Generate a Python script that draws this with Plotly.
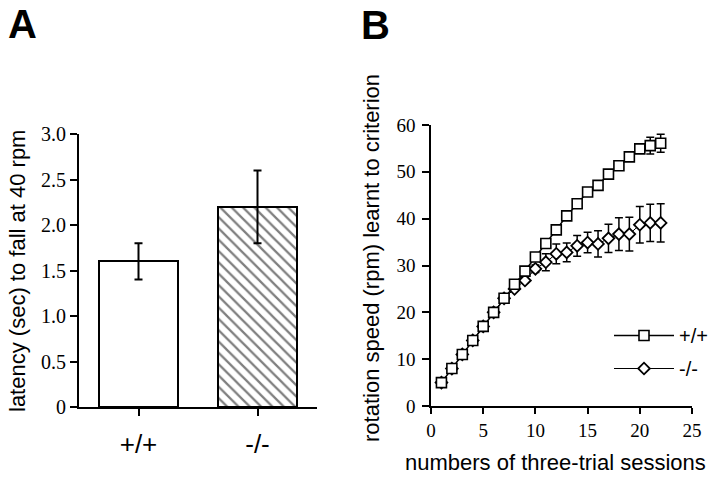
import plotly.graph_objects as go

# ---------------- data ----------------
genotypes = ["+/+", "-/-"]
latency_mean = [1.6, 2.2]
latency_err = [0.2, 0.4]

sessions = list(range(1, 23))
wt_speed = [5, 8, 11, 14, 17, 20, 23, 26, 28.8, 31.8, 34.7, 37.6, 40.6, 43.2,
            45.7, 47.1, 49.5, 51.3, 53.2, 54.9, 55.6, 56.1]
wt_err = [0, 0, 0, 0, 0, 0, 0, 0, 0, 0, 0, 0, 0, 0, 0, 0, 0, 0, 0, 0, 1.8, 1.9]
ko_speed = [5, 8, 11, 14, 17, 20, 23, 25, 26.8, 29.3, 30.7, 32.5, 32.8, 34.2,
            34.9, 34.6, 35.8, 36.7, 36.7, 38.7, 39.1, 39.1]
ko_err = [0, 0, 0, 0, 0, 0, 0, 0, 0.5, 0.8, 1.8, 2.1, 2.0, 2.2, 2.2, 2.8,
          3.0, 3.5, 3.6, 3.9, 4.0, 4.1]

W, H = 720, 480
def px(x):
    return x / W
def py(y):
    return 1 - y / H

SERIF = "Liberation Serif, Times New Roman, serif"
SANS = "Liberation Sans, Arial, sans-serif"

fig = go.Figure()

# Panel A bars
fig.add_trace(go.Bar(
    x=[1, 2], y=latency_mean, width=0.667,
    marker=dict(color="white", line=dict(color="black", width=2),
                pattern=dict(shape=["", "\\"], size=8, solidity=0.28,
                             fgcolor="black", bgcolor="white")),
    error_y=dict(type="data", array=latency_err, color="black",
                 thickness=2, width=4),
    xaxis="x", yaxis="y", showlegend=False,
))

# Panel B lines
fig.add_trace(go.Scatter(
    x=sessions, y=ko_speed, mode="lines+markers", name="-/-",
    line=dict(color="black", width=1),
    marker=dict(symbol="diamond", size=9, color="white",
                line=dict(color="black", width=1.8)),
    error_y=dict(type="data", array=ko_err, color="black", thickness=1.5, width=4),
    xaxis="x2", yaxis="y2", legendgroup="b", legendrank=2,
))
fig.add_trace(go.Scatter(
    x=sessions, y=wt_speed, mode="lines+markers", name="+/+",
    line=dict(color="black", width=1.5),
    marker=dict(symbol="square", size=10, color="white",
                line=dict(color="black", width=1.6)),
    error_y=dict(type="data", array=wt_err, color="black", thickness=1.5, width=4),
    xaxis="x2", yaxis="y2", legendgroup="a", legendrank=1,
))

axis_common = dict(showgrid=False, zeroline=False, showline=True,
                   linecolor="black", ticks="outside", tickcolor="black",
                   automargin=False)

fig.update_layout(
    template="simple_white",
    width=W, height=H,
    margin=dict(l=0, r=0, t=0, b=0, autoexpand=False),
    plot_bgcolor="white", paper_bgcolor="white",
    bargap=0,
    xaxis=dict(domain=[px(79), px(317)], range=[0.5, 2.5],
               tickvals=[1, 2], ticktext=genotypes, ticklen=7, tickwidth=2,
               linewidth=2, ticklabelstandoff=6,
               tickfont=dict(family=SANS, size=26, color="black"),
               anchor="y", **axis_common),
    yaxis=dict(domain=[py(407), py(134)], range=[0, 3.0],
               tickvals=[0, 0.5, 1.0, 1.5, 2.0, 2.5, 3.0],
               ticktext=["0", "0.5", "1.0", "1.5", "2.0", "2.5", "3.0"],
               ticklen=7, tickwidth=2, linewidth=2,
               tickfont=dict(family=SERIF, size=20, color="black"),
               anchor="x", **axis_common),
    xaxis2=dict(domain=[px(431), px(692)], range=[0, 25],
                tickvals=[0, 5, 10, 15, 20, 25], ticklen=6, tickwidth=1.5,
                linewidth=1.5,
                tickfont=dict(family=SERIF, size=19, color="black"),
                anchor="y2", **axis_common),
    yaxis2=dict(domain=[py(406), py(125)], range=[0, 60],
                tickvals=[0, 10, 20, 30, 40, 50, 60], ticklen=7, tickwidth=1.5,
                linewidth=1.5, ticklabelstandoff=3,
                tickfont=dict(family=SERIF, size=19, color="black"),
                anchor="x2", **axis_common),
    legend=dict(x=px(609), y=py(316), xanchor="left", yanchor="top",
                bgcolor="rgba(0,0,0,0)", traceorder="grouped",
                tracegroupgap=4, itemwidth=60,
                font=dict(family=SANS, size=20, color="black")),
)

annotations = [
    dict(text="<b>A</b>", x=px(22), y=py(0), yanchor="top",
         font=dict(family=SANS, size=40)),
    dict(text="<b>B</b>", x=px(375), y=py(1), yanchor="top",
         font=dict(family=SANS, size=40)),
    dict(text="latency (sec) to fall at 40 rpm", x=px(17), y=py(271),
         textangle=-90, font=dict(family=SANS, size=22)),
    dict(text="rotation speed (rpm) learnt to criterion", x=px(371), y=py(258),
         textangle=-90, font=dict(family=SANS, size=22)),
    dict(text="numbers of three-trial sessions", x=px(555), y=py(462),
         font=dict(family=SANS, size=22)),
]
for a in annotations:
    a.setdefault("yanchor", "middle")
    a.update(xref="paper", yref="paper", showarrow=False, xanchor="center")
    a["font"]["color"] = "black"
fig.update_layout(annotations=annotations)

# remove the page's default 8px body margin so the 720x480 figure fills the window
fig.write_html("out.html",
               config={"displayModeBar": False},
               post_script="document.body.style.margin='0px';"
                           "document.body.style.overflow='hidden';")
